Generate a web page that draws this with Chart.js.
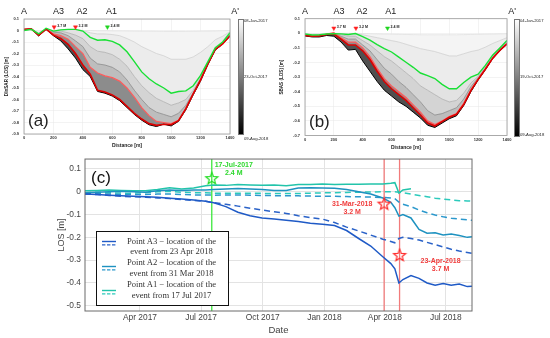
<!DOCTYPE html>
<html>
<head>
<meta charset="utf-8">
<script src="https://cdn.jsdelivr.net/npm/chart.js"></script>
<style>
  html, body { margin: 0; padding: 0; background: #fff; }
  body { position: relative; width: 550px; height: 338px; overflow: hidden; font-family: "Liberation Sans", Arial, sans-serif; }
  canvas, .abs { position: absolute; }
  .cbar { width: 4px; border: 0.8px solid #777; background: linear-gradient(to bottom, #fdfdfd 0%, #000 100%); }
  .cbl { font-size: 4.2px; line-height: 5px; color: #222; white-space: nowrap; }
  #legend { left: 96px; top: 231px; width: 131px; height: 73px; border: 1.5px solid #111; background: #fff; }
  .lt { font-family: "Liberation Serif", "Times New Roman", serif; font-size: 8.6px; line-height: 10px; color: #333; white-space: nowrap; width: 120px; text-align: center; }
</style>
</head>
<body>
<canvas id="pa" width="275" height="149" style="left:0;top:0"></canvas>
<canvas id="pb" width="275" height="151" style="left:275px;top:0"></canvas>
<canvas id="pc" width="550" height="188" style="left:0;top:150px"></canvas>
<div id="legend" class="abs"></div>
<script>
// ---- profiles (a) DInSAR and (b) SBAS, distance along A-A'
var dist = [0,50,100,150,200,250,300,350,400,450,500,550,600,650,700,750,800,850,900,950,1000,1050,1100,1150,1200,1250,1300,1350,1400]
var distTicks = [0,200,400,600,800,1000,1200,1400]
var losTicksA = [0.1,0,-0.1,-0.2,-0.3,-0.4,-0.5,-0.6,-0.7,-0.8,-0.9]
var losTicksB = [0.1,0,-0.1,-0.2,-0.3,-0.4,-0.5,-0.6,-0.7]
var sectionNames = ['A','A3','A2','A1',"A'"]
var sectionDist = [0,235,395,595,1435]
var quakeMag = ['3.7 M','3.2 M','2.4 M']
var quakeDistA = [205,350,567]
var quakeDistB = [200,353,572]
var quakeLevelA = [0.03,0.03,0.03]
var quakeLevelB = [0.035,0.035,0.035]
var cbarLabelsA = ['08-Jan-2017','23-Oct-2017','09-Aug-2018']
var cbarLabelsB = ['04-Jan-2017','19-Oct-2017','09-Aug-2018']

// DInSAR profiles, oldest to newest
var aJan17 = [0.000,0.003,-0.004,0.004,0.000,0.002,0.002,0.001,0.000,0.000,-0.002,-0.002,-0.003,-0.003,-0.004,-0.005,-0.006,-0.006,-0.007,-0.008,-0.008,-0.008,-0.008,-0.007,-0.006,-0.005,-0.004,-0.002,0.000]
var aApr17 = [0.003,0.008,-0.020,0.012,0.000,0.005,0.008,0.008,0.000,-0.020,-0.030,-0.030,-0.035,-0.045,-0.070,-0.100,-0.140,-0.170,-0.200,-0.220,-0.250,-0.250,-0.250,-0.230,-0.190,-0.140,-0.080,-0.050,-0.010]
var aJul17 = [0.000,0.010,-0.030,0.020,-0.005,0.005,0.010,0.010,-0.005,-0.060,-0.085,-0.080,-0.095,-0.125,-0.185,-0.270,-0.360,-0.420,-0.465,-0.500,-0.545,-0.530,-0.525,-0.480,-0.390,-0.270,-0.150,-0.100,-0.020]
var aOct17 = [0.005,0.010,-0.035,0.015,-0.010,-0.005,-0.020,-0.040,-0.070,-0.140,-0.180,-0.190,-0.210,-0.250,-0.310,-0.400,-0.480,-0.540,-0.590,-0.620,-0.650,-0.630,-0.600,-0.520,-0.410,-0.280,-0.155,-0.105,-0.030]
var aJan18 = [0.008,0.012,-0.038,0.015,-0.015,-0.020,-0.045,-0.090,-0.140,-0.240,-0.290,-0.300,-0.320,-0.360,-0.430,-0.520,-0.600,-0.670,-0.710,-0.730,-0.750,-0.720,-0.650,-0.540,-0.420,-0.285,-0.160,-0.110,-0.040]
var aMar18 = [0.010,0.012,-0.040,0.013,-0.030,-0.045,-0.075,-0.140,-0.200,-0.320,-0.370,-0.395,-0.410,-0.440,-0.500,-0.580,-0.670,-0.740,-0.790,-0.800,-0.810,-0.780,-0.680,-0.550,-0.430,-0.285,-0.160,-0.120,-0.045]
var aApr18 = [0.010,0.015,-0.040,0.012,-0.040,-0.070,-0.120,-0.200,-0.300,-0.380,-0.520,-0.535,-0.560,-0.600,-0.660,-0.720,-0.770,-0.810,-0.825,-0.815,-0.820,-0.785,-0.680,-0.550,-0.430,-0.290,-0.165,-0.115,-0.045]
var aAug18 = [0.008,0.012,-0.048,0.010,-0.045,-0.090,-0.160,-0.240,-0.340,-0.400,-0.530,-0.545,-0.570,-0.610,-0.670,-0.730,-0.780,-0.820,-0.835,-0.815,-0.830,-0.790,-0.690,-0.560,-0.440,-0.295,-0.170,-0.120,-0.050]

// SBAS profiles, oldest to newest
var bJan17 = [0.000,-0.002,-0.002,0.000,0.001,0.000,0.000,0.000,-0.002,-0.003,-0.004,-0.005,-0.006,-0.007,-0.008,-0.009,-0.010,-0.010,-0.010,-0.010,-0.010,-0.010,-0.009,-0.008,-0.007,-0.006,-0.005,-0.004,-0.003]
var bApr17 = [-0.005,-0.010,-0.008,-0.003,-0.002,-0.002,-0.004,-0.002,-0.010,-0.020,-0.030,-0.040,-0.050,-0.060,-0.075,-0.090,-0.105,-0.115,-0.125,-0.140,-0.155,-0.155,-0.140,-0.125,-0.115,-0.095,-0.070,-0.050,-0.030]
var bJul17 = [-0.005,-0.012,-0.010,-0.005,-0.003,-0.004,-0.008,-0.002,-0.023,-0.047,-0.077,-0.105,-0.128,-0.163,-0.198,-0.233,-0.272,-0.290,-0.310,-0.350,-0.380,-0.380,-0.337,-0.300,-0.280,-0.220,-0.150,-0.100,-0.050]
var bOct17 = [-0.008,-0.014,-0.012,-0.006,-0.005,-0.010,-0.020,-0.020,-0.050,-0.080,-0.120,-0.160,-0.190,-0.230,-0.270,-0.310,-0.360,-0.390,-0.420,-0.450,-0.470,-0.460,-0.410,-0.340,-0.295,-0.230,-0.158,-0.105,-0.058]
var bJan18 = [-0.010,-0.016,-0.014,-0.006,-0.004,-0.020,-0.040,-0.040,-0.080,-0.120,-0.180,-0.240,-0.280,-0.330,-0.370,-0.420,-0.470,-0.530,-0.560,-0.550,-0.530,-0.510,-0.450,-0.365,-0.305,-0.238,-0.165,-0.110,-0.064]
var bMar18 = [-0.012,-0.018,-0.015,-0.005,0.005,-0.030,-0.060,-0.060,-0.100,-0.160,-0.240,-0.310,-0.360,-0.400,-0.440,-0.490,-0.540,-0.600,-0.625,-0.600,-0.570,-0.550,-0.480,-0.385,-0.312,-0.243,-0.170,-0.115,-0.069]
var bApr18 = [-0.014,-0.020,-0.018,-0.008,-0.005,-0.040,-0.080,-0.080,-0.120,-0.180,-0.260,-0.330,-0.380,-0.420,-0.460,-0.510,-0.560,-0.615,-0.635,-0.605,-0.575,-0.555,-0.488,-0.392,-0.316,-0.246,-0.172,-0.117,-0.072]
var bAug18 = [-0.018,-0.025,-0.025,-0.015,-0.020,-0.060,-0.115,-0.110,-0.190,-0.260,-0.330,-0.390,-0.430,-0.470,-0.500,-0.540,-0.580,-0.630,-0.645,-0.615,-0.585,-0.565,-0.495,-0.400,-0.320,-0.250,-0.175,-0.120,-0.075]

// ---- (c) LOS time series
var dates = ['2017-01-09','2017-01-27','2017-02-14','2017-03-04','2017-03-22','2017-04-09','2017-04-27','2017-05-15','2017-06-02','2017-06-20',
  '2017-07-08','2017-07-20','2017-08-07','2017-08-25','2017-09-12','2017-09-30','2017-10-18','2017-11-05','2017-11-23','2017-12-11',
  '2017-12-29','2018-01-16','2018-02-03','2018-02-21','2018-03-11','2018-03-29','2018-04-10','2018-04-16','2018-04-22','2018-04-28',
  '2018-05-10','2018-05-22','2018-06-03','2018-06-15','2018-06-27','2018-07-09','2018-07-21','2018-08-02','2018-08-09']
var a3Solid = [-0.010,-0.012,-0.015,-0.018,-0.020,-0.022,-0.024,-0.028,-0.032,-0.036,-0.042,-0.048,-0.065,-0.090,-0.105,-0.115,-0.120,-0.125,-0.130,-0.138,
  -0.143,-0.148,-0.170,-0.205,-0.238,-0.285,-0.315,-0.338,-0.400,-0.385,-0.368,-0.380,-0.400,-0.410,-0.402,-0.410,-0.405,-0.416,-0.414]
var a3Dashed = [-0.010,-0.012,-0.016,-0.020,-0.022,-0.024,-0.027,-0.030,-0.034,-0.038,-0.042,-0.048,-0.055,-0.063,-0.072,-0.080,-0.088,-0.095,-0.105,-0.113,
  -0.120,-0.135,-0.155,-0.172,-0.190,-0.208,-0.218,-0.224,-0.205,-0.200,-0.205,-0.212,-0.222,-0.232,-0.242,-0.252,-0.260,-0.266,-0.270]
var a2Solid = [-0.004,-0.002,0.000,0.002,0.000,-0.002,0.004,0.008,0.005,0.008,0.008,0.010,0.012,0.014,0.012,0.010,0.006,0.006,0.016,0.018,
  0.017,0.015,0.010,0.000,-0.010,-0.027,-0.046,-0.070,-0.107,-0.100,-0.115,-0.165,-0.182,-0.180,-0.190,-0.185,-0.192,-0.200,-0.197]
var a2Dashed = [-0.008,-0.008,-0.010,-0.012,-0.012,-0.012,-0.010,-0.010,-0.012,-0.014,-0.014,-0.015,-0.014,-0.014,-0.015,-0.016,-0.017,-0.018,-0.018,-0.019,
  -0.020,-0.020,-0.021,-0.022,-0.023,-0.025,-0.027,-0.030,-0.045,-0.055,-0.065,-0.080,-0.092,-0.102,-0.110,-0.116,-0.120,-0.123,-0.125]
var a1Solid = [0.004,0.006,0.008,0.006,0.004,0.004,0.010,0.018,0.012,0.016,0.026,0.030,0.028,0.032,0.030,0.028,0.030,0.026,0.032,0.032,
  0.034,0.032,0.033,0.033,0.034,0.034,0.037,0.040,-0.006,0.008,0.013,null,null,null,null,null,null,null,null]
var a1Dashed = [-0.004,-0.002,-0.004,-0.006,-0.006,-0.004,0.000,0.002,-0.002,-0.004,-0.004,-0.006,-0.006,-0.006,-0.006,-0.007,-0.008,-0.008,-0.008,-0.006,
  -0.005,-0.004,-0.003,-0.002,-0.001,0.000,0.000,0.000,-0.002,-0.004,-0.010,-0.016,-0.022,-0.028,-0.032,-0.036,-0.039,-0.040,-0.041]
var eventDates = ['2017-07-17','2018-03-31','2018-04-23']
var eventStar = [0.06,-0.052,-0.277]
var eventText = [['17-Jul-2017','2.4 M'],['31-Mar-2018','3.2 M'],['23-Apr-2018','3.7 M']]
var dateTicks = ['2017-04-01','2017-07-01','2017-10-01','2018-01-01','2018-04-01','2018-07-01']
var dateTickLabels = ['Apr 2017','Jul 2017','Oct 2017','Jan 2018','Apr 2018','Jul 2018']
var losTicksC = [0.1,0,-0.1,-0.2,-0.3,-0.4,-0.5]
var legendText = [['Point A3 \u2212 location of the','event from 23 Apr 2018'],
  ['Point A2 \u2212 location of the','event from 31 Mar 2018'],
  ['Point A1 \u2212 location of the','event from 17 Jul 2017']]

var SANS = '"Liberation Sans", Arial, sans-serif'

function dayNum(s) {
  var p = s.split('-').map(Number)
  return (Date.UTC(p[0], p[1] - 1, p[2]) - Date.UTC(2017, 0, 1)) / 864e5
}
function fmt(v) { return Math.abs(v) < 1e-9 ? '0' : String(Math.round(v * 10) / 10) }
function fixedTicks(list) { return function(scale) { scale.ticks = list.map(function(v) { return {value: v} }) } }

// line colour, width, fill towards previous profile, draw order
var profileStyle = [
  ['#dedede', 0.7, 'rgba(0,0,0,0)', 2],
  ['#cccccc', 0.7, '#f4f4f4', 2],
  ['#19e035', 1.4, '#ececec', 0],
  ['#a8a8a8', 0.7, '#e2e2e2', 2],
  ['#808080', 0.7, '#d4d4d4', 2],
  ['#ff5c5c', 1.2, '#bdbdbd', 1],
  ['#dd0000', 1.6, '#8c8c8c', 0],
  ['#000000', 1.0, '#505050', 1]
]
var quakeColors = ['#ff2020', '#ff2020', '#1ed41e']

var profileText = {
  id: 'profileText',
  afterDraw: function(chart, args, o) {
    var ctx = chart.ctx, area = chart.chartArea, x = chart.scales.x
    ctx.save()
    ctx.strokeStyle = '#9a9a9a'; ctx.lineWidth = 0.8
    ctx.strokeRect(area.left, area.top, area.width, area.height)
    ctx.fillStyle = '#222'; ctx.font = '9px ' + SANS
    ctx.textAlign = 'center'; ctx.textBaseline = 'middle'
    sectionNames.forEach(function(s, i) { ctx.fillText(s, x.getPixelForValue(sectionDist[i]), 12) })
    var meta = chart.getDatasetMeta(chart.data.datasets.length - 1)
    ctx.font = 'bold 3.6px ' + SANS; ctx.textAlign = 'left'
    meta.data.forEach(function(pt, i) { ctx.fillText(quakeMag[i], pt.x + 3, pt.y - 1.5) })
    ctx.font = '17px ' + SANS
    ctx.fillText(o.letter, area.left + 4, area.bottom - 13)
    ctx.restore()
  }
}

function profileChart(id, curves, quakeDist, quakeLevel, cfg) {
  var datasets = curves.map(function(vals, i) {
    var st = profileStyle[i]
    return {
      data: dist.map(function(d, k) { return {x: d, y: vals[k]} }),
      borderColor: st[0], borderWidth: st[1], backgroundColor: st[2],
      fill: i === 0 ? false : '-1', pointRadius: 0, order: st[3]
    }
  })
  datasets.push({
    data: quakeDist.map(function(d, k) { return {x: d, y: quakeLevel[k]} }),
    showLine: false, fill: false, pointStyle: 'triangle', pointRotation: 180, pointRadius: 2.4,
    pointBackgroundColor: quakeColors, pointBorderColor: quakeColors, pointBorderWidth: 0.5, order: -1
  })
  return new Chart(document.getElementById(id), {
    type: 'line',
    data: {datasets: datasets},
    options: {
      responsive: false, animation: false,
      layout: {padding: {left: 0, right: cfg.padRight, top: cfg.padTop, bottom: 0}},
      plugins: {legend: {display: false}, tooltip: {enabled: false},
        filler: {drawTime: 'beforeDatasetsDraw'}, profileText: {letter: cfg.letter}},
      scales: {
        x: {
          type: 'linear', min: 0, max: 1400,
          afterBuildTicks: fixedTicks(distTicks),
          ticks: {font: {size: 4, weight: 'bold', family: SANS}, color: '#333', padding: cfg.xPad, maxRotation: 0,
            callback: function(v) { return String(v) }},
          grid: {color: '#e6e6e6', lineWidth: 0.5, drawTicks: false},
          border: {display: false},
          title: {display: true, text: 'Distance [m]', font: {size: 5, weight: 'bold', family: SANS}, color: '#222', padding: 0},
          afterFit: function(s) { s.height = cfg.xAxisH }
        },
        y: {
          min: cfg.yMin, max: 0.1,
          afterBuildTicks: fixedTicks(cfg.yTicks),
          ticks: {font: {size: 4, weight: 'bold', family: SANS}, color: '#333', padding: 5, callback: fmt},
          grid: {color: '#e6e6e6', lineWidth: 0.5, drawTicks: false},
          border: {display: false},
          title: {display: true, text: cfg.yTitle, font: {size: 4.6, weight: 'bold', family: SANS}, color: '#222', padding: {top: 3.5, bottom: 0}},
          afterFit: function(s) { s.width = cfg.yAxisW }
        }
      }
    },
    plugins: [profileText]
  })
}

profileChart('pa', [aJan17, aApr17, aJul17, aOct17, aJan18, aMar18, aApr18, aAug18], quakeDistA, quakeLevelA,
  {letter: '(a)', yMin: -0.9, yTicks: losTicksA, yTitle: 'DInSAR (LOS) [m]', padRight: 45, padTop: 19, xAxisH: 15, yAxisW: 24, xPad: 1.9})
profileChart('pb', [bJan17, bApr17, bJul17, bOct17, bJan18, bMar18, bApr18, bAug18], quakeDistB, quakeLevelB,
  {letter: '(b)', yMin: -0.7, yTicks: losTicksB, yTitle: 'SBAS (LOS) [m]', padRight: 43, padTop: 18.7, xAxisH: 15.5, yAxisW: 30, xPad: 2.1})

// colour bars next to the profiles
function colorBar(left, top, height, labels, labelYs) {
  var bar = document.createElement('div')
  bar.className = 'abs cbar'
  bar.style.left = left + 'px'; bar.style.top = top + 'px'; bar.style.height = height + 'px'
  document.body.appendChild(bar)
  labels.forEach(function(t, i) {
    var l = document.createElement('div')
    l.className = 'abs cbl'
    l.textContent = t
    l.style.left = (left + 6) + 'px'; l.style.top = (labelYs[i] - 2.5) + 'px'
    document.body.appendChild(l)
  })
}
colorBar(238, 19, 114, cbarLabelsA, [20, 76, 138])
colorBar(514, 19, 116, cbarLabelsB, [20, 76, 134.5])

// ---- (c)
function starImage(color) {
  var c = document.createElement('canvas')
  c.width = 16; c.height = 16
  var g = c.getContext('2d')
  g.strokeStyle = color; g.lineWidth = 1.2
  g.beginPath()
  for (var i = 0; i < 10; i++) {
    var r = i % 2 ? 2.7 : 6.3
    var a = -Math.PI / 2 + i * Math.PI / 5
    var px = 8 + r * Math.cos(a), py = 8.6 + r * Math.sin(a)
    if (i) g.lineTo(px, py); else g.moveTo(px, py)
  }
  g.closePath(); g.stroke()
  return c
}

var days = dates.map(dayNum)
var yMinC = -0.523, yMaxC = 0.1435
var seriesVals = [a3Solid, a3Dashed, a2Solid, a2Dashed, a1Solid, a1Dashed]
var seriesStyle = [['#1f5ac6', []], ['#2a62c8', [6, 4]], ['#1e92c0', []], ['#2b98cc', [6, 4]], ['#22c4aa', []], ['#2ccabc', [6, 4]]]
var eventColors = ['#3ee83e', '#f27b7b', '#f27b7b']
var eventTextColors = ['#2ed82e', '#f03c3c', '#f03c3c']
var eventTextOffset = [[22, -13], [-32, 0], [41, 6.6]]

var cData = seriesVals.map(function(vals, i) {
  return {
    data: days.map(function(d, k) { return {x: d, y: vals[k]} }),
    borderColor: seriesStyle[i][0], borderDash: seriesStyle[i][1], borderWidth: 1.5,
    pointRadius: 0, fill: false, spanGaps: false, order: 1
  }
})
eventDates.forEach(function(s, i) {
  cData.push({
    data: [{x: dayNum(s), y: yMinC}, {x: dayNum(s), y: yMaxC}],
    borderColor: eventColors[i], borderWidth: 1.3, pointRadius: 0, fill: false, order: 2
  })
})
cData.push({
  data: eventDates.map(function(s, i) { return {x: dayNum(s), y: eventStar[i]} }),
  showLine: false, fill: false, order: 0,
  pointStyle: [starImage('#22dd22'), starImage('#ff2a2a'), starImage('#ff2a2a')]
})

var seriesText = {
  id: 'seriesText',
  afterDraw: function(chart) {
    var ctx = chart.ctx, area = chart.chartArea
    ctx.save()
    ctx.strokeStyle = '#6a6a6a'; ctx.lineWidth = 1
    ctx.strokeRect(area.left, area.top, area.width, area.height)
    ctx.fillStyle = '#111'; ctx.font = '17px ' + SANS
    ctx.textAlign = 'left'; ctx.textBaseline = 'middle'
    ctx.fillText('(c)', area.left + 6, area.top + 19)
    var meta = chart.getDatasetMeta(chart.data.datasets.length - 1)
    ctx.font = 'bold 7px ' + SANS; ctx.textAlign = 'center'
    meta.data.forEach(function(pt, i) {
      ctx.fillStyle = eventTextColors[i]
      eventText[i].forEach(function(t, j) {
        ctx.fillText(t, pt.x + eventTextOffset[i][0], pt.y + eventTextOffset[i][1] + j * 8)
      })
    })
    ctx.restore()
  }
}

new Chart(document.getElementById('pc'), {
  type: 'line',
  data: {datasets: cData},
  options: {
    responsive: false, animation: false,
    layout: {padding: {left: 55, right: 78, top: 3, bottom: 0}},
    plugins: {legend: {display: false}, tooltip: {enabled: false}},
    scales: {
      x: {
        type: 'linear', min: days[0], max: days[days.length - 1],
        afterBuildTicks: fixedTicks(dateTicks.map(dayNum)),
        ticks: {font: {size: 8.4, family: SANS}, color: '#444', padding: 2, maxRotation: 0,
          callback: function(v, i) { return dateTickLabels[i] }},
        grid: {color: '#e3e3e3', lineWidth: 1, drawTicks: false},
        border: {display: false},
        title: {display: true, text: 'Date', font: {size: 9.5, family: SANS}, color: '#444', padding: {top: 0, bottom: 2.3}},
        afterFit: function(s) { s.height = 27 }
      },
      y: {
        min: yMinC, max: yMaxC,
        afterBuildTicks: fixedTicks(losTicksC),
        ticks: {font: {size: 8.4, family: SANS}, color: '#444', padding: 4, callback: fmt},
        grid: {color: '#e3e3e3', lineWidth: 1, drawTicks: false},
        border: {display: false},
        title: {display: true, text: 'LOS [m]', font: {size: 9, family: SANS}, color: '#444', padding: {top: 1.3, bottom: 0}},
        afterFit: function(s) { s.width = 30 }
      }
    }
  },
  plugins: [seriesText]
})

// legend of (c)
var legendIconY = [241.3, 266.7, 290.7]
var legendTextY = [[241, 251.3], [262, 272.7], [284, 295]]
legendText.forEach(function(lines, k) {
  var svgNS = 'http://www.w3.org/2000/svg'
  var svg = document.createElementNS(svgNS, 'svg')
  svg.setAttribute('width', '16'); svg.setAttribute('height', '8')
  svg.style.position = 'absolute'; svg.style.left = '101px'; svg.style.top = (legendIconY[k] - 1.5) + 'px'
  ;[0, 1].forEach(function(j) {
    var ln = document.createElementNS(svgNS, 'line')
    ln.setAttribute('x1', '1'); ln.setAttribute('x2', '15')
    ln.setAttribute('y1', String(1.5 + j * 3.4)); ln.setAttribute('y2', String(1.5 + j * 3.4))
    ln.setAttribute('stroke', seriesStyle[k * 2 + j][0]); ln.setAttribute('stroke-width', '1.4')
    if (j) ln.setAttribute('stroke-dasharray', '3.4,1.6')
    svg.appendChild(ln)
  })
  document.body.appendChild(svg)
  lines.forEach(function(t, j) {
    var d = document.createElement('div')
    d.className = 'abs lt'
    d.textContent = t
    d.style.left = '111.5px'; d.style.top = (legendTextY[k][j] - 5) + 'px'
    document.body.appendChild(d)
  })
})
</script>
</body>
</html>
